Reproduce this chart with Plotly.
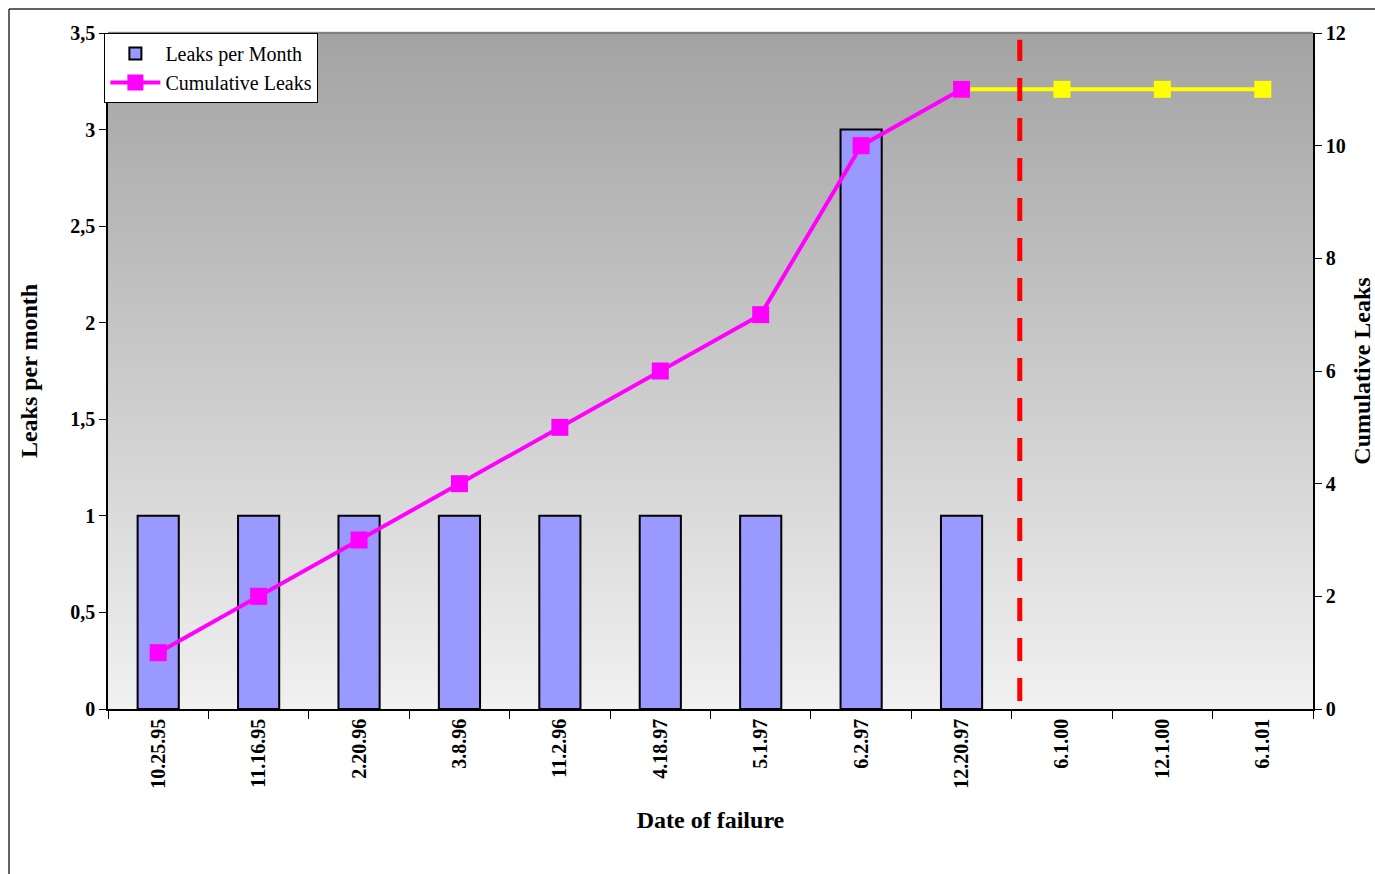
import plotly.graph_objects as go

# ---- data ----
dates = ["10.25.95", "11.16.95", "2.20.96", "3.8.96", "11.2.96", "4.18.97",
         "5.1.97", "6.2.97", "12.20.97", "6.1.00", "12.1.00", "6.1.01"]
leaks_per_month = [1, 1, 1, 1, 1, 1, 1, 3, 1, None, None, None]
cumulative_leaks = [1, 2, 3, 4, 5, 6, 7, 10, 11]
projected_dates = ["12.20.97", "6.1.00", "12.1.00", "6.1.01"]
projected_cumulative = [11, 11, 11, 11]

left_ticks = [0, 0.5, 1, 1.5, 2, 2.5, 3, 3.5]
left_ticktext = ["0", "0,5", "1", "1,5", "2", "2,5", "3", "3,5"]
right_ticks = [0, 2, 4, 6, 8, 10, 12]

cutoff_position = 8.58  # category-axis position of the dashed marker

FONT = "Liberation Serif"
W, H = 1375, 874
L, R, T, B = 108, 62, 33, 165
pw, ph = W - L - R, H - T - B


def bold(items):
    return [f"<b>{t}</b>" for t in items]


fig = go.Figure()

fig.add_trace(go.Bar(
    x=dates, y=leaks_per_month, name="Leaks per Month",
    marker=dict(color="#9999ff", line=dict(color="black", width=2)),
    width=0.41, yaxis="y",
))

# projection segment (drawn first so the last measured marker sits on top)
fig.add_trace(go.Scatter(
    x=projected_dates, y=projected_cumulative, yaxis="y2", mode="lines+markers",
    line=dict(color="#ffff00", width=4),
    marker=dict(symbol="square", size=17, color="#ffff00"),
    showlegend=False,
))

fig.add_trace(go.Scatter(
    x=dates[:len(cumulative_leaks)], y=cumulative_leaks, yaxis="y2",
    mode="lines+markers", name="Cumulative Leaks",
    line=dict(color="#ff00ff", width=4),
    marker=dict(symbol="square", size=17, color="#ff00ff"),
))

shapes = []
# vertical gradient in the plot background
n_bands = 120
top_c, bot_c = 163, 241
for i in range(n_bands):
    y0 = i / n_bands
    y1 = (i + 1) / n_bands
    c = round(bot_c + (top_c - bot_c) * (i + 0.5) / n_bands)
    shapes.append(dict(type="rect", xref="paper", yref="paper",
                       x0=0, x1=1, y0=y0, y1=y1 + 0.002, layer="below",
                       line=dict(width=0), fillcolor=f"rgb({c},{c},{c})"))
# top border of plot area
shapes.append(dict(type="line", xref="paper", yref="paper", x0=0, x1=1,
                   y0=1, y1=1, line=dict(color="#808080", width=2)))
# dashed cutoff line
shapes.append(dict(type="line", xref="x", yref="paper",
                   x0=cutoff_position, x1=cutoff_position, y0=0.012, y1=0.99,
                   line=dict(color="#ff0000", width=5, dash="23px,17px")))
# outer chart frame
fx = (9 - L) / pw
fy = 1 + (T - 9) / ph
shapes.append(dict(type="line", xref="paper", yref="paper", x0=fx, x1=fx,
                   y0=fy, y1=-1, line=dict(color="#303030", width=1.5)))
shapes.append(dict(type="line", xref="paper", yref="paper", x0=fx, x1=2,
                   y0=fy, y1=fy, line=dict(color="#303030", width=1.5)))

tick_font = dict(family=FONT, size=20, color="black")
title_font = dict(family=FONT, size=24)

fig.update_layout(
    width=W, height=H,
    margin=dict(l=L, r=R, t=T, b=B, autoexpand=False),
    paper_bgcolor="white", plot_bgcolor="#d0d0d0",
    font=dict(family=FONT, color="black"),
    shapes=shapes,
    showlegend=True,
    legend=dict(x=-0.003, y=1.0, xanchor="left", yanchor="top",
                bgcolor="white", bordercolor="black", borderwidth=1,
                font=dict(family=FONT, size=20), tracegroupgap=0,
                itemwidth=50),
    xaxis=dict(
        type="category", categoryorder="array", categoryarray=dates,
        range=[-0.5, len(dates) - 0.5],
        tickvals=dates, ticktext=bold(dates),
        tickson="boundaries", ticks="outside", ticklen=8, tickcolor="black",
        tickangle=-90, showgrid=False, zeroline=False, automargin=False,
        showline=True, linecolor="black", linewidth=1.5,
        tickfont=tick_font,
        title=dict(text="<b>Date of failure</b>", standoff=23,
                   font=title_font),
    ),
    yaxis=dict(
        range=[0, 3.5], tickvals=left_ticks, ticktext=bold(left_ticktext),
        ticks="outside", ticklen=7, tickcolor="black",
        showgrid=False, zeroline=False, automargin=False,
        showline=True, linecolor="black", linewidth=1.5,
        tickfont=tick_font,
        title=dict(text="<b>Leaks per month</b>", standoff=26,
                   font=title_font),
    ),
    yaxis2=dict(
        range=[0, 12], tickvals=right_ticks, ticktext=bold(right_ticks),
        overlaying="y", side="right",
        ticks="outside", ticklen=7, tickcolor="black",
        showgrid=False, zeroline=False, automargin=False,
        showline=True, linecolor="black", linewidth=1.5,
        tickfont=tick_font,
        title=dict(text="<b>Cumulative Leaks</b>", standoff=44,
                   font=title_font),
    ),
)

fig.write_html("out.html")
